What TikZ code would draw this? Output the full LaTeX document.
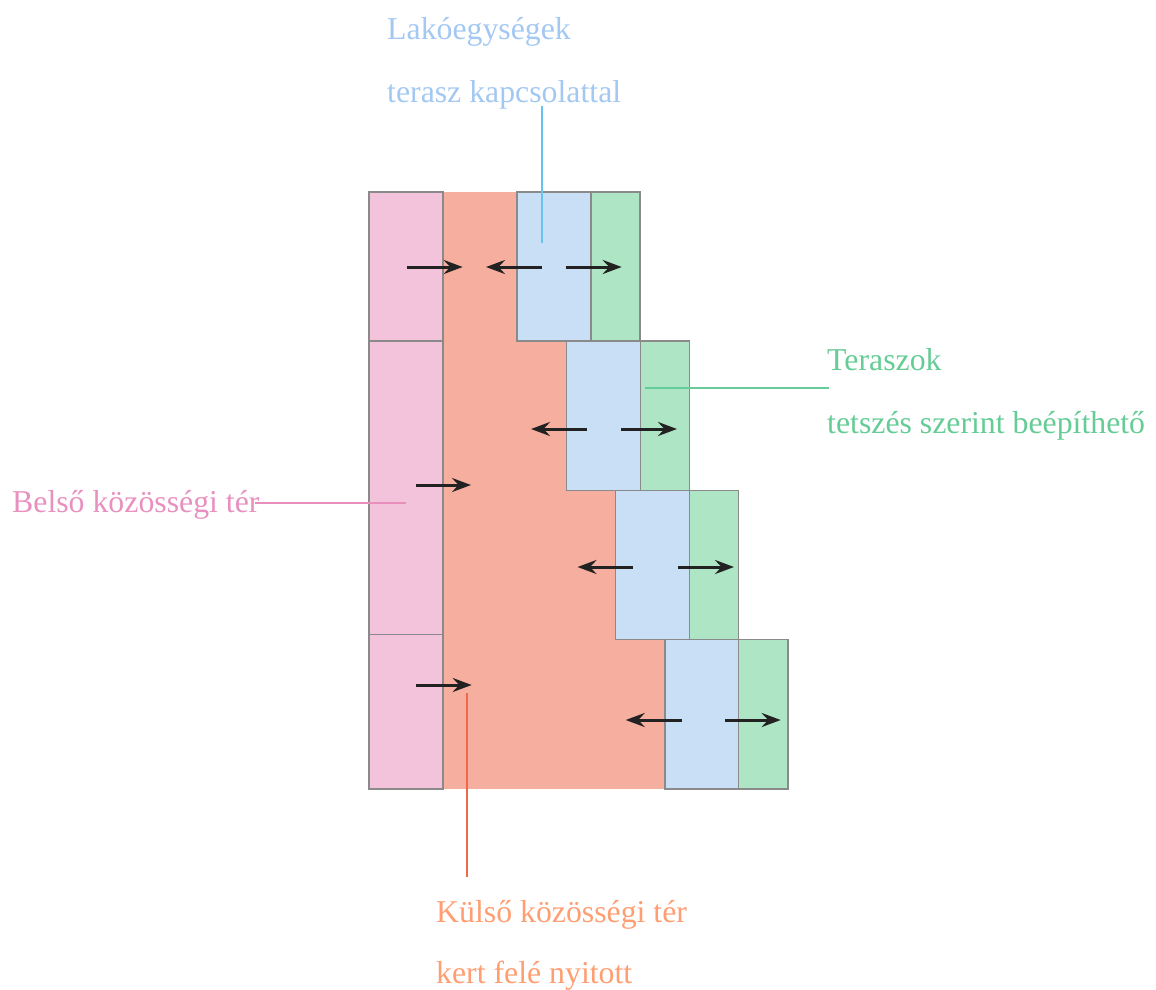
\documentclass[tikz,border=0pt]{standalone}
\usepackage{fontspec}
\setmainfont{Liberation Serif}
\usetikzlibrary{arrows.meta}
\definecolor{pinkfill}{HTML}{F2C3DA}
\definecolor{salmonfill}{HTML}{F6AE9E}
\definecolor{bluefill}{HTML}{C9DFF5}
\definecolor{greenfill}{HTML}{ADE5C5}
\definecolor{bordergray}{HTML}{8A8A8A}
\definecolor{bluetext}{HTML}{A3C8F2}
\definecolor{greentext}{HTML}{66CC96}
\definecolor{pinktext}{HTML}{E890BF}
\definecolor{orangetext}{HTML}{FF9E72}
\definecolor{blueline}{HTML}{66C2EE}
\definecolor{greenline}{HTML}{66CC99}
\definecolor{pinkline}{HTML}{E88FBD}
\definecolor{orangeline}{HTML}{F0684A}
\definecolor{arrowdark}{HTML}{222222}
\tikzset{
  cell/.style={draw=bordergray, line width=1.6pt},
  flow/.style={draw=arrowdark, line width=3pt, -{Stealth[length=19pt,width=14pt,inset=6.5pt]}},
  lead/.style={line width=2.2pt},
  lbl/.style={anchor=base west, inner sep=0pt, font=\fontsize{31.8}{38}\selectfont},
}
\begin{document}
\begin{tikzpicture}[x=1pt,y=-1pt]
\useasboundingbox (0,0) rectangle (1156,989);
% outer community space (salmon)
\fill[salmonfill] (443,192) -- (517,192) -- (517,341.2) -- (566.3,341.2) -- (566.3,490.4)
  -- (615.6,490.4) -- (615.6,639.6) -- (664.9,639.6) -- (664.9,788.8) -- (443,788.8) -- cycle;
% pink column
\filldraw[cell, fill=pinkfill] (369,192) rectangle (443,341.2);
\filldraw[cell, fill=pinkfill] (369,341.2) rectangle (443,634.3);
\filldraw[cell, fill=pinkfill] (369,634.3) rectangle (443,788.8);
% units and terraces
\filldraw[cell, fill=bluefill] (517,192) rectangle (591,341.2);
\filldraw[cell, fill=greenfill] (591,192) rectangle (640,341.2);
\filldraw[cell, fill=bluefill] (566.3,341.2) rectangle (640.3,490.4);
\filldraw[cell, fill=greenfill] (640.3,341.2) rectangle (689.3,490.4);
\filldraw[cell, fill=bluefill] (615.6,490.4) rectangle (689.6,639.6);
\filldraw[cell, fill=greenfill] (689.6,490.4) rectangle (738.6,639.6);
\filldraw[cell, fill=bluefill] (664.9,639.6) rectangle (738.4,788.8);
\filldraw[cell, fill=greenfill] (738.4,639.6) rectangle (787.7,788.8);
% arrow coordinates
\coordinate (p1a) at (406.7,267); \coordinate (p1b) at (462.7,267);
\coordinate (l1a) at (541.7,267); \coordinate (l1b) at (486,267);
\coordinate (r1a) at (565.7,267); \coordinate (r1b) at (621.7,267);
\coordinate (l2a) at (586.7,429); \coordinate (l2b) at (531,429);
\coordinate (r2a) at (621,429); \coordinate (r2b) at (677,429);
\coordinate (p2a) at (416,485); \coordinate (p2b) at (471,485);
\coordinate (l3a) at (632.5,567); \coordinate (l3b) at (577.5,567);
\coordinate (r3a) at (678,567); \coordinate (r3b) at (734,567);
\coordinate (p3a) at (415.7,685); \coordinate (p3b) at (471.7,685);
\coordinate (l4a) at (681.7,720); \coordinate (l4b) at (625.7,720);
\coordinate (r4a) at (725,720); \coordinate (r4b) at (780.7,720);
\draw[flow] (p1a) -- (p1b);
\draw[flow] (l1a) -- (l1b);
\draw[flow] (r1a) -- (r1b);
\draw[flow] (l2a) -- (l2b);
\draw[flow] (r2a) -- (r2b);
\draw[flow] (p2a) -- (p2b);
\draw[flow] (l3a) -- (l3b);
\draw[flow] (r3a) -- (r3b);
\draw[flow] (p3a) -- (p3b);
\draw[flow] (l4a) -- (l4b);
\draw[flow] (r4a) -- (r4b);
% labels
\node[lbl, text=bluetext] (lak1) at (387,39) {Lakóegységek};
\node[lbl, text=bluetext] (lak2) at (387,102) {terasz kapcsolattal};
\node[lbl, text=greentext] (ter1) at (827,370) {Teraszok};
\node[lbl, text=greentext] (ter2) at (827,433) {tetszés szerint beépíthető};
\node[lbl, text=pinktext] (bel) at (12,512) {Belső közösségi tér};
\node[lbl, text=orangetext] (kul1) at (436,922) {Külső közösségi tér};
\node[lbl, text=orangetext] (kul2) at (436,983) {kert felé nyitott};
% leader lines
\coordinate (bl1) at (541.7,106); \coordinate (bl2) at (541.7,243);
\coordinate (gl1) at (645,387.7); \coordinate (gl2) at (829.3,387.7);
\coordinate (pl1) at (255,503.3); \coordinate (pl2) at (405.7,503.3);
\coordinate (ol1) at (466.7,693.3); \coordinate (ol2) at (466.7,877);
\draw[lead, blueline] (bl1) -- (bl2);
\draw[lead, greenline] (gl1) -- (gl2);
\draw[lead, pinkline] (pl1) -- (pl2);
\draw[lead, orangeline] (ol1) -- (ol2);
\end{tikzpicture}
\end{document}
